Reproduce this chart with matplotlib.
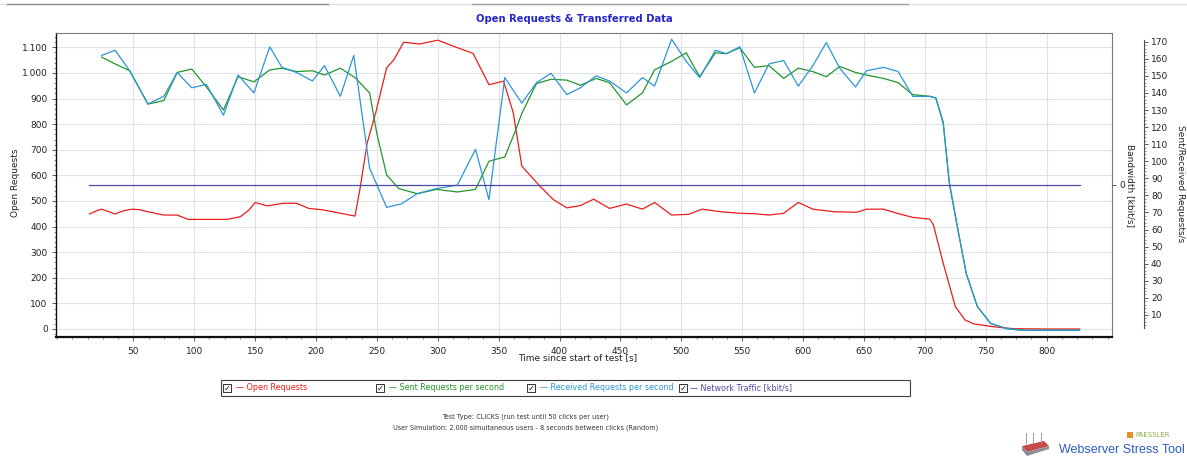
import matplotlib
matplotlib.use('Agg')
import matplotlib.pyplot as plt
from matplotlib.ticker import MultipleLocator, FixedLocator
from matplotlib.patches import Rectangle, Polygon
from matplotlib.lines import Line2D

W, H, DPI = 1187, 458, 100

# ---------------- data ----------------
open_t = [14, 20, 24, 30, 35, 42, 49, 55, 62, 75, 86, 95, 110, 127, 138, 145, 150, 160, 173, 184,
          194, 206, 220, 232, 236, 242, 249, 258, 264, 272, 285, 300, 313, 329, 342, 354, 362, 369, 384, 395,
          406, 417, 428, 441, 455, 468, 478, 492, 506, 517, 532, 548, 560, 572, 584, 596, 608, 625, 644, 652,
          666, 677, 690, 704, 707, 715, 725, 733, 740, 756, 773, 800, 827]
open_v = [449, 462, 468, 458, 449, 462, 468, 466, 458, 445, 445, 428, 428, 428, 439, 465, 494, 481, 491, 491,
          471, 465, 452, 441, 544, 726, 844, 1020, 1052, 1120, 1113, 1128, 1104, 1076, 954, 968, 844, 636, 557, 505,
          473, 482, 507, 471, 488, 468, 494, 445, 448, 468, 458, 452, 450, 445, 452, 494, 468, 458, 456, 468,
          468, 452, 436, 429, 406, 257, 87, 35, 20, 9, 1, 0, 0]

sent_t = [24, 35, 47, 62, 75, 86, 98, 110, 124, 136, 149, 162, 172, 184, 197, 207, 220, 232, 244, 250,
          258, 268, 283, 299, 316, 331, 342, 355, 363, 369, 381, 393, 406, 417, 430, 441, 455, 468, 478, 492,
          504, 515, 528, 537, 548, 560, 572, 584, 596, 608, 619, 630, 643, 652, 666, 678, 690, 704, 709, 715,
          720, 726, 734, 743, 754, 767, 780, 827]
sent_v = [161, 157, 153, 133.5, 135.5, 152, 154, 143.5, 130, 149.5, 146.5, 153.5, 154.5, 152.5, 153, 150.5, 154.5, 149, 140, 116,
          92, 84, 81, 83.5, 82, 83.5, 100, 102.5, 116.5, 128, 145.5, 148, 147.5, 144.5, 148.5, 146, 133, 140, 153.5, 158.5,
          163.5, 149.5, 163.5, 163, 166.5, 155, 156, 148.5, 154.5, 152.5, 149.5, 155.5, 152, 150.5, 148.5, 146, 139, 138, 137, 123,
          87, 64, 34, 15, 5, 2, 1, 1]

recv_t = [24, 35, 47, 62, 75, 86, 98, 110, 124, 136, 149, 162, 172, 184, 197, 207, 220, 231, 244, 258,
          270, 283, 299, 316, 331, 342, 355, 369, 381, 393, 406, 417, 430, 441, 455, 468, 478, 492, 504, 515,
          528, 537, 548, 560, 572, 584, 596, 608, 619, 630, 643, 652, 666, 678, 690, 704, 709, 715, 720, 726,
          734, 743, 754, 767, 780, 827]
recv_v = [162, 165, 153, 133.5, 138, 152, 143, 145, 127, 150.5, 140, 167, 155, 152, 147, 156, 138, 162, 96, 73,
          75, 81, 84, 86, 107, 77.5, 149, 134, 146, 151.5, 139, 143, 150, 147, 140, 149, 144, 171.5, 158.5, 149,
          165, 163, 167, 140, 157, 159, 144, 156, 169.5, 154.5, 143.5, 153, 155, 152.5, 138, 138, 137, 122, 88, 64,
          34, 15, 5, 2, 1, 1]

net_t = [14, 827]
net_v = [0, 0]

x_ticks = [50, 100, 150, 200, 250, 300, 350, 400, 450, 500, 550, 600, 650, 700, 750, 800]
left_ticks = [0, 100, 200, 300, 400, 500, 600, 700, 800, 900, 1000, 1100]
left_labels = ['0', '100', '200', '300', '400', '500', '600', '700', '800', '900', '1.000', '1.100']
right_ticks = [10, 20, 30, 40, 50, 60, 70, 80, 90, 100, 110, 120, 130, 140, 150, 160, 170]
bw_ticks = [0]

legend_labels = ['Open Requests', 'Sent Requests per second', 'Received Requests per second', 'Network Traffic [kbit/s]']

# ---------------- styles ----------------
C_OPEN = '#ee1c1c'
C_SENT = '#23962a'
C_RECV = '#2c96d8'
C_NET = '#4a4aa6'
FS = 6.5
FS_LEG = 5.8


def fx(x):
    return x / W


def fy(y):
    return 1 - y / H


fig = plt.figure(figsize=(W / DPI, H / DPI), dpi=DPI)
fig.patch.set_facecolor('white')

L, R, T, B = 56, 1112, 33, 337
ax = fig.add_axes([fx(L), fy(B), (R - L) / W, (B - T) / H])
ax.set_xlim(-13.5, 853.6)
ax.set_ylim(-31.25, 1156)
ax.plot(open_t, open_v, color=C_OPEN, lw=0.9, zorder=3)

ax.set_xticks(x_ticks)
ax.xaxis.set_minor_locator(MultipleLocator(12.5))
ax.set_yticks(left_ticks)
ax.set_yticklabels(left_labels)
ax.yaxis.set_minor_locator(MultipleLocator(20))
ax.grid(True, which='major', color='#dfe2e8', lw=0.8)
ax.set_axisbelow(True)
ax.tick_params(axis='both', which='major', labelsize=FS, length=3, width=0.6, color='#404040', labelcolor='#222222')
ax.tick_params(axis='both', which='minor', length=1.5, width=0.5, color='#606060')
ax.tick_params(axis='x', which='major', pad=4)
ax.tick_params(axis='y', which='major', pad=3)
ax.tick_params(axis='y', which='both', right=False)
ax.tick_params(axis='x', which='both', top=False)
ax.spines['left'].set_color('#101010')
ax.spines['left'].set_linewidth(1.0)
ax.spines['bottom'].set_color('#101010')
ax.spines['bottom'].set_linewidth(1.6)
ax.spines['top'].set_color('#7a7a7a')
ax.spines['top'].set_linewidth(0.8)
ax.spines['right'].set_color('#7a7a7a')
ax.spines['right'].set_linewidth(0.8)

# Sent / received requests axis
ax2 = ax.twinx()
ax2.set_ylim(-2.93, 175.1)
ax2.plot(sent_t, sent_v, color=C_SENT, lw=0.9)
ax2.plot(recv_t, recv_v, color=C_RECV, lw=0.9)
for s in ['top', 'left', 'bottom']:
    ax2.spines[s].set_visible(False)
ax2.spines['right'].set_position(('axes', (1144 - L) / (R - L)))
ax2.spines['right'].set_bounds(2.3, 171)
ax2.spines['right'].set_color('#505050')
ax2.spines['right'].set_linewidth(0.8)
ax2.set_yticks(right_ticks)
ax2.yaxis.set_minor_locator(FixedLocator([v for v in range(4, 171, 2)]))
ax2.tick_params(axis='y', which='major', labelsize=FS, length=3, width=0.6, pad=2, color='#404040', labelcolor='#222222')
ax2.tick_params(axis='y', which='minor', length=1.5, width=0.5, color='#606060')

# Bandwidth axis
ax3 = ax.twinx()
ax3.set_ylim(-1, 1)
ax3.plot(net_t, net_v, color=C_NET, lw=0.9)
for s in ['top', 'left', 'bottom', 'right']:
    ax3.spines[s].set_visible(False)
ax3.set_yticks(bw_ticks)
ax3.tick_params(axis='y', which='major', labelsize=FS, length=3, width=0.6, pad=2, color='#404040', labelcolor='#222222')

# axis labels and title
fig.text(fx(15), fy(183), 'Open Requests', rotation=90, ha='center', va='center', fontsize=FS, color='#222222')
fig.text(fx(578), fy(358), 'Time since start of test [s]', ha='center', va='center', fontsize=FS, color='#222222')
fig.text(fx(1130), fy(185), 'Bandwidth [kbit/s]', rotation=270, ha='center', va='center', fontsize=FS, color='#222222')
fig.text(fx(1181), fy(184), 'Sent/Received Requests/s', rotation=270, ha='center', va='center', fontsize=FS, color='#222222')
fig.text(fx(574), fy(19), 'Open Requests & Transferred Data', ha='center', va='center', fontsize=7.2,
         fontweight='bold', color='#2626cc')

# top UI lines
fig.add_artist(Line2D([fx(0), fx(1187)], [fy(3.5)] * 2, color='#e2e2e2', lw=1))
fig.add_artist(Line2D([fx(7), fx(328)], [fy(3.5)] * 2, color='#8e8e8e', lw=1))
fig.add_artist(Line2D([fx(472), fx(908)], [fy(3.5)] * 2, color='#a0a0a0', lw=1))

# legend box
fig.add_artist(Rectangle((fx(221), fy(396)), (910 - 221) / W, 16 / H, transform=fig.transFigure,
                         facecolor='white', edgecolor='#404040', lw=0.8))
box_x = [223, 376, 527, 679]
text_x = [236, 389, 540, 690]
colors = [C_OPEN, C_SENT, C_RECV, C_NET]
for bx, tx, lab, col in zip(box_x, text_x, legend_labels, colors):
    fig.add_artist(Rectangle((fx(bx), fy(392)), 8 / W, 8 / H, transform=fig.transFigure,
                             facecolor='white', edgecolor='#303030', lw=0.7))
    fig.text(fx(bx + 4), fy(388), '\u2713', ha='center', va='center', fontsize=6, color='#111111',
             fontweight='bold')
    fig.text(fx(tx), fy(388), '\u2014 ' + lab, ha='left', va='center', fontsize=FS_LEG, color=col)

# footer
fig.text(fx(526), fy(417), 'Test Type: CLICKS (run test until 50 clicks per user)', ha='center', va='center',
         fontsize=4.7, color='#333333')
fig.text(fx(526), fy(428), 'User Simulation: 2.000 simultaneous users - 8 seconds between clicks (Random)',
         ha='center', va='center', fontsize=4.7, color='#333333')

# logo
fig.add_artist(Polygon([(fx(1022), fy(446)), (fx(1044), fy(441)), (fx(1049), fy(446)), (fx(1027), fy(452))],
                       closed=True, transform=fig.transFigure, facecolor='#c84848', edgecolor='none'))
fig.add_artist(Polygon([(fx(1022), fy(446)), (fx(1027), fy(452)), (fx(1049), fy(446)), (fx(1049), fy(449)),
                        (fx(1027), fy(456)), (fx(1022), fy(450))],
                       closed=True, transform=fig.transFigure, facecolor='#8a8f9a', edgecolor='none'))
for ax_x in [1026, 1033, 1041]:
    fig.add_artist(Line2D([fx(ax_x)] * 2, [fy(433), fy(443)], color='#9a9a9a', lw=0.7))
fig.add_artist(Rectangle((fx(1127), fy(438)), 6 / W, 6 / H, transform=fig.transFigure,
                         facecolor='#e8902a', edgecolor='none'))
fig.text(fx(1135), fy(435), 'PAESSLER', ha='left', va='center', fontsize=5, color='#8aae48')
fig.text(fx(1059), fy(450), 'Webserver Stress Tool', ha='left', va='center', fontsize=9,
         family='Liberation Sans', color='#2a5cc0')

fig.savefig('out.png', dpi=DPI)
